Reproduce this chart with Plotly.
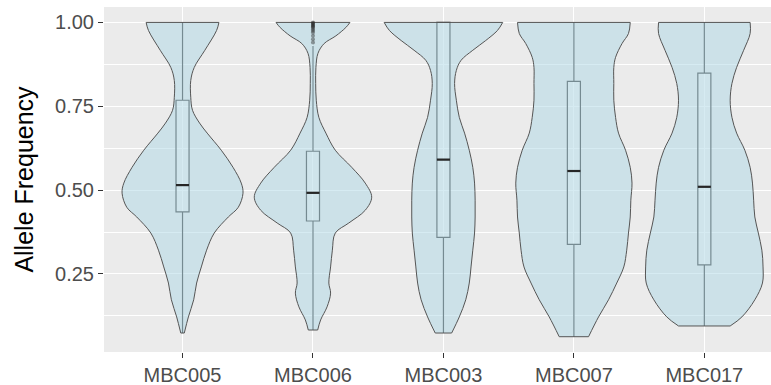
import plotly.graph_objects as go

# Samples in display order
samples = ["MBC005", "MBC006", "MBC003", "MBC007", "MBC017"]

# Violin outlines: allele-frequency levels and relative density (1 = widest)
af_005 = [1.0, 0.976, 0.917, 0.866, 0.827, 0.777, 0.738, 0.70, 0.67, 0.619, 0.568,
          0.521, 0.491, 0.449, 0.42, 0.372, 0.321, 0.271, 0.223, 0.173, 0.122, 0.074]
dn_005 = [0.62, 0.58, 0.38, 0.20, 0.14, 0.14, 0.17, 0.29, 0.42, 0.66, 0.86,
          1.0, 1.03, 0.95, 0.78, 0.54, 0.41, 0.32, 0.24, 0.19, 0.10, 0.03]

af_006 = [1.0, 0.985, 0.960, 0.937, 0.908, 0.866, 0.818, 0.768, 0.717, 0.670, 0.619,
          0.568, 0.521, 0.479, 0.440, 0.402, 0.372, 0.321, 0.271, 0.223, 0.193,
          0.152, 0.113, 0.083]
dn_006 = [0.63, 0.56, 0.39, 0.19, 0.085, 0.05, 0.046, 0.056, 0.10, 0.22, 0.38,
          0.66, 0.89, 1.0, 0.89, 0.61, 0.38, 0.33, 0.30, 0.27, 0.30,
          0.24, 0.13, 0.08]

af_003 = [1.0, 0.976, 0.946, 0.917, 0.887, 0.857, 0.818, 0.768, 0.717, 0.670, 0.619,
          0.568, 0.521, 0.470, 0.420, 0.372, 0.321, 0.271, 0.223, 0.173, 0.122, 0.074]
dn_003 = [1.01, 0.92, 0.72, 0.50, 0.30, 0.22, 0.19, 0.22, 0.27, 0.36, 0.44,
          0.50, 0.53, 0.54, 0.54, 0.53, 0.50, 0.47, 0.44, 0.38, 0.27, 0.14]

af_007 = [1.0, 0.967, 0.937, 0.896, 0.866, 0.818, 0.768, 0.717, 0.670, 0.619, 0.568,
          0.521, 0.470, 0.420, 0.372, 0.321, 0.271, 0.223, 0.173, 0.122, 0.063]
dn_007 = [0.96, 0.93, 0.82, 0.71, 0.68, 0.68, 0.68, 0.71, 0.76, 0.88, 0.96,
          0.99, 0.97, 0.96, 0.93, 0.90, 0.85, 0.73, 0.59, 0.42, 0.25]

af_017 = [1.0, 0.967, 0.917, 0.866, 0.818, 0.768, 0.717, 0.670, 0.619, 0.568, 0.521,
          0.470, 0.420, 0.372, 0.321, 0.271, 0.223, 0.173, 0.122, 0.095]
dn_017 = [0.78, 0.78, 0.67, 0.55, 0.47, 0.44, 0.47, 0.55, 0.69, 0.78, 0.82,
          0.84, 0.86, 0.92, 0.98, 1.0, 0.99, 0.86, 0.64, 0.44]

violin_levels = [af_005, af_006, af_003, af_007, af_017]
violin_density = [dn_005, dn_006, dn_003, dn_007, dn_017]

# Box-plot summaries per sample
q1 = [0.435, 0.408, 0.359, 0.338, 0.277]
median = [0.515, 0.492, 0.591, 0.557, 0.510]
q3 = [0.768, 0.616, 1.0, 0.824, 0.849]
lower_whisker = [0.074, 0.083, 0.074, 0.063, 0.095]
upper_whisker = [1.0, 0.93, 1.0, 1.0, 1.0]

# Outlying points above the upper whisker (MBC006)
outliers_006 = [1.0, 0.998, 0.995, 0.992, 0.99, 0.987, 0.985, 0.98, 0.975, 0.97, 0.96, 0.95, 0.94]

y_ticks = [0.25, 0.50, 0.75, 1.00]
y_tick_text = ["0.25", "0.50", "0.75", "1.00"]
y_minor = [0.125, 0.375, 0.625, 0.875]

HALF_WIDTH = 0.45   # half of the maximum violin width, in category units
BOX_WIDTH = 0.1

VIOLIN_FILL = "rgba(173,216,230,0.5)"
OUTLINE = "#555555"

fig = go.Figure()

for i, (lev, dens) in enumerate(zip(violin_levels, violin_density)):
    xc = i + 1
    left = [xc - HALF_WIDTH * d for d in dens]
    right = [xc + HALF_WIDTH * d for d in dens]
    side_line = dict(color=OUTLINE, width=1.0, shape="spline", smoothing=1.0)
    # left flank, then right flank filled across to it (ends joined by straight edges)
    fig.add_trace(go.Scatter(x=left, y=lev, mode="lines", line=side_line,
                             hoverinfo="skip", showlegend=False))
    fig.add_trace(go.Scatter(x=right, y=lev, mode="lines", line=side_line,
                             fill="tonextx", fillcolor=VIOLIN_FILL,
                             hoverinfo="skip", showlegend=False))
    # flat top and bottom edges
    fig.add_trace(go.Scatter(
        x=[left[0], right[0], None, left[-1], right[-1]],
        y=[lev[0], lev[0], None, lev[-1], lev[-1]],
        mode="lines", line=dict(color=OUTLINE, width=1.0),
        hoverinfo="skip", showlegend=False))

fig.add_trace(go.Box(
    x=[i + 1 for i in range(len(samples))],
    q1=q1, median=median, q3=q3,
    lowerfence=lower_whisker, upperfence=upper_whisker,
    width=BOX_WIDTH, whiskerwidth=0,
    fillcolor="rgba(255,255,255,0.3)",
    line=dict(color="#3d3d3d", width=1.2),
    boxpoints=False, showlegend=False,
))

# Thicker median bars
for i, m in enumerate(median):
    fig.add_trace(go.Scatter(
        x=[i + 1 - BOX_WIDTH / 2, i + 1 + BOX_WIDTH / 2], y=[m, m],
        mode="lines", line=dict(color="#262626", width=2.2),
        hoverinfo="skip", showlegend=False,
    ))

fig.add_trace(go.Scatter(
    x=[samples.index("MBC006") + 1] * len(outliers_006), y=outliers_006,
    mode="markers", marker=dict(color="rgba(40,40,40,0.45)", size=4),
    hoverinfo="skip", showlegend=False,
))

fig.update_layout(
    width=771, height=385,
    margin=dict(l=104, r=0, t=7, b=33),
    paper_bgcolor="white", plot_bgcolor="#EBEBEB",
    font=dict(family="Liberation Sans, Arial, sans-serif"),
)

fig.update_xaxes(
    range=[0.398, 5.511],
    tickvals=[i + 1 for i in range(len(samples))], ticktext=samples,
    tickfont=dict(size=20, color="#4D4D4D"),
    ticks="outside", ticklen=5, tickwidth=1.1, tickcolor="#333333",
    showgrid=True, gridcolor="white", gridwidth=1.1,
    zeroline=False, showline=False,
)

fig.update_yaxes(
    range=[0.0174, 1.046],
    tickvals=y_ticks, ticktext=y_tick_text,
    tickfont=dict(size=20, color="#4D4D4D"),
    ticks="outside", ticklen=5, tickwidth=1.1, tickcolor="#333333",
    showgrid=True, gridcolor="white", gridwidth=1.1,
    minor=dict(tickvals=y_minor, showgrid=True, gridcolor="white", gridwidth=0.55, ticks=""),
    zeroline=False, showline=False,
    title=dict(text="Allele Frequency", font=dict(size=25, color="black"), standoff=14),
)

fig.write_html("out.html")
